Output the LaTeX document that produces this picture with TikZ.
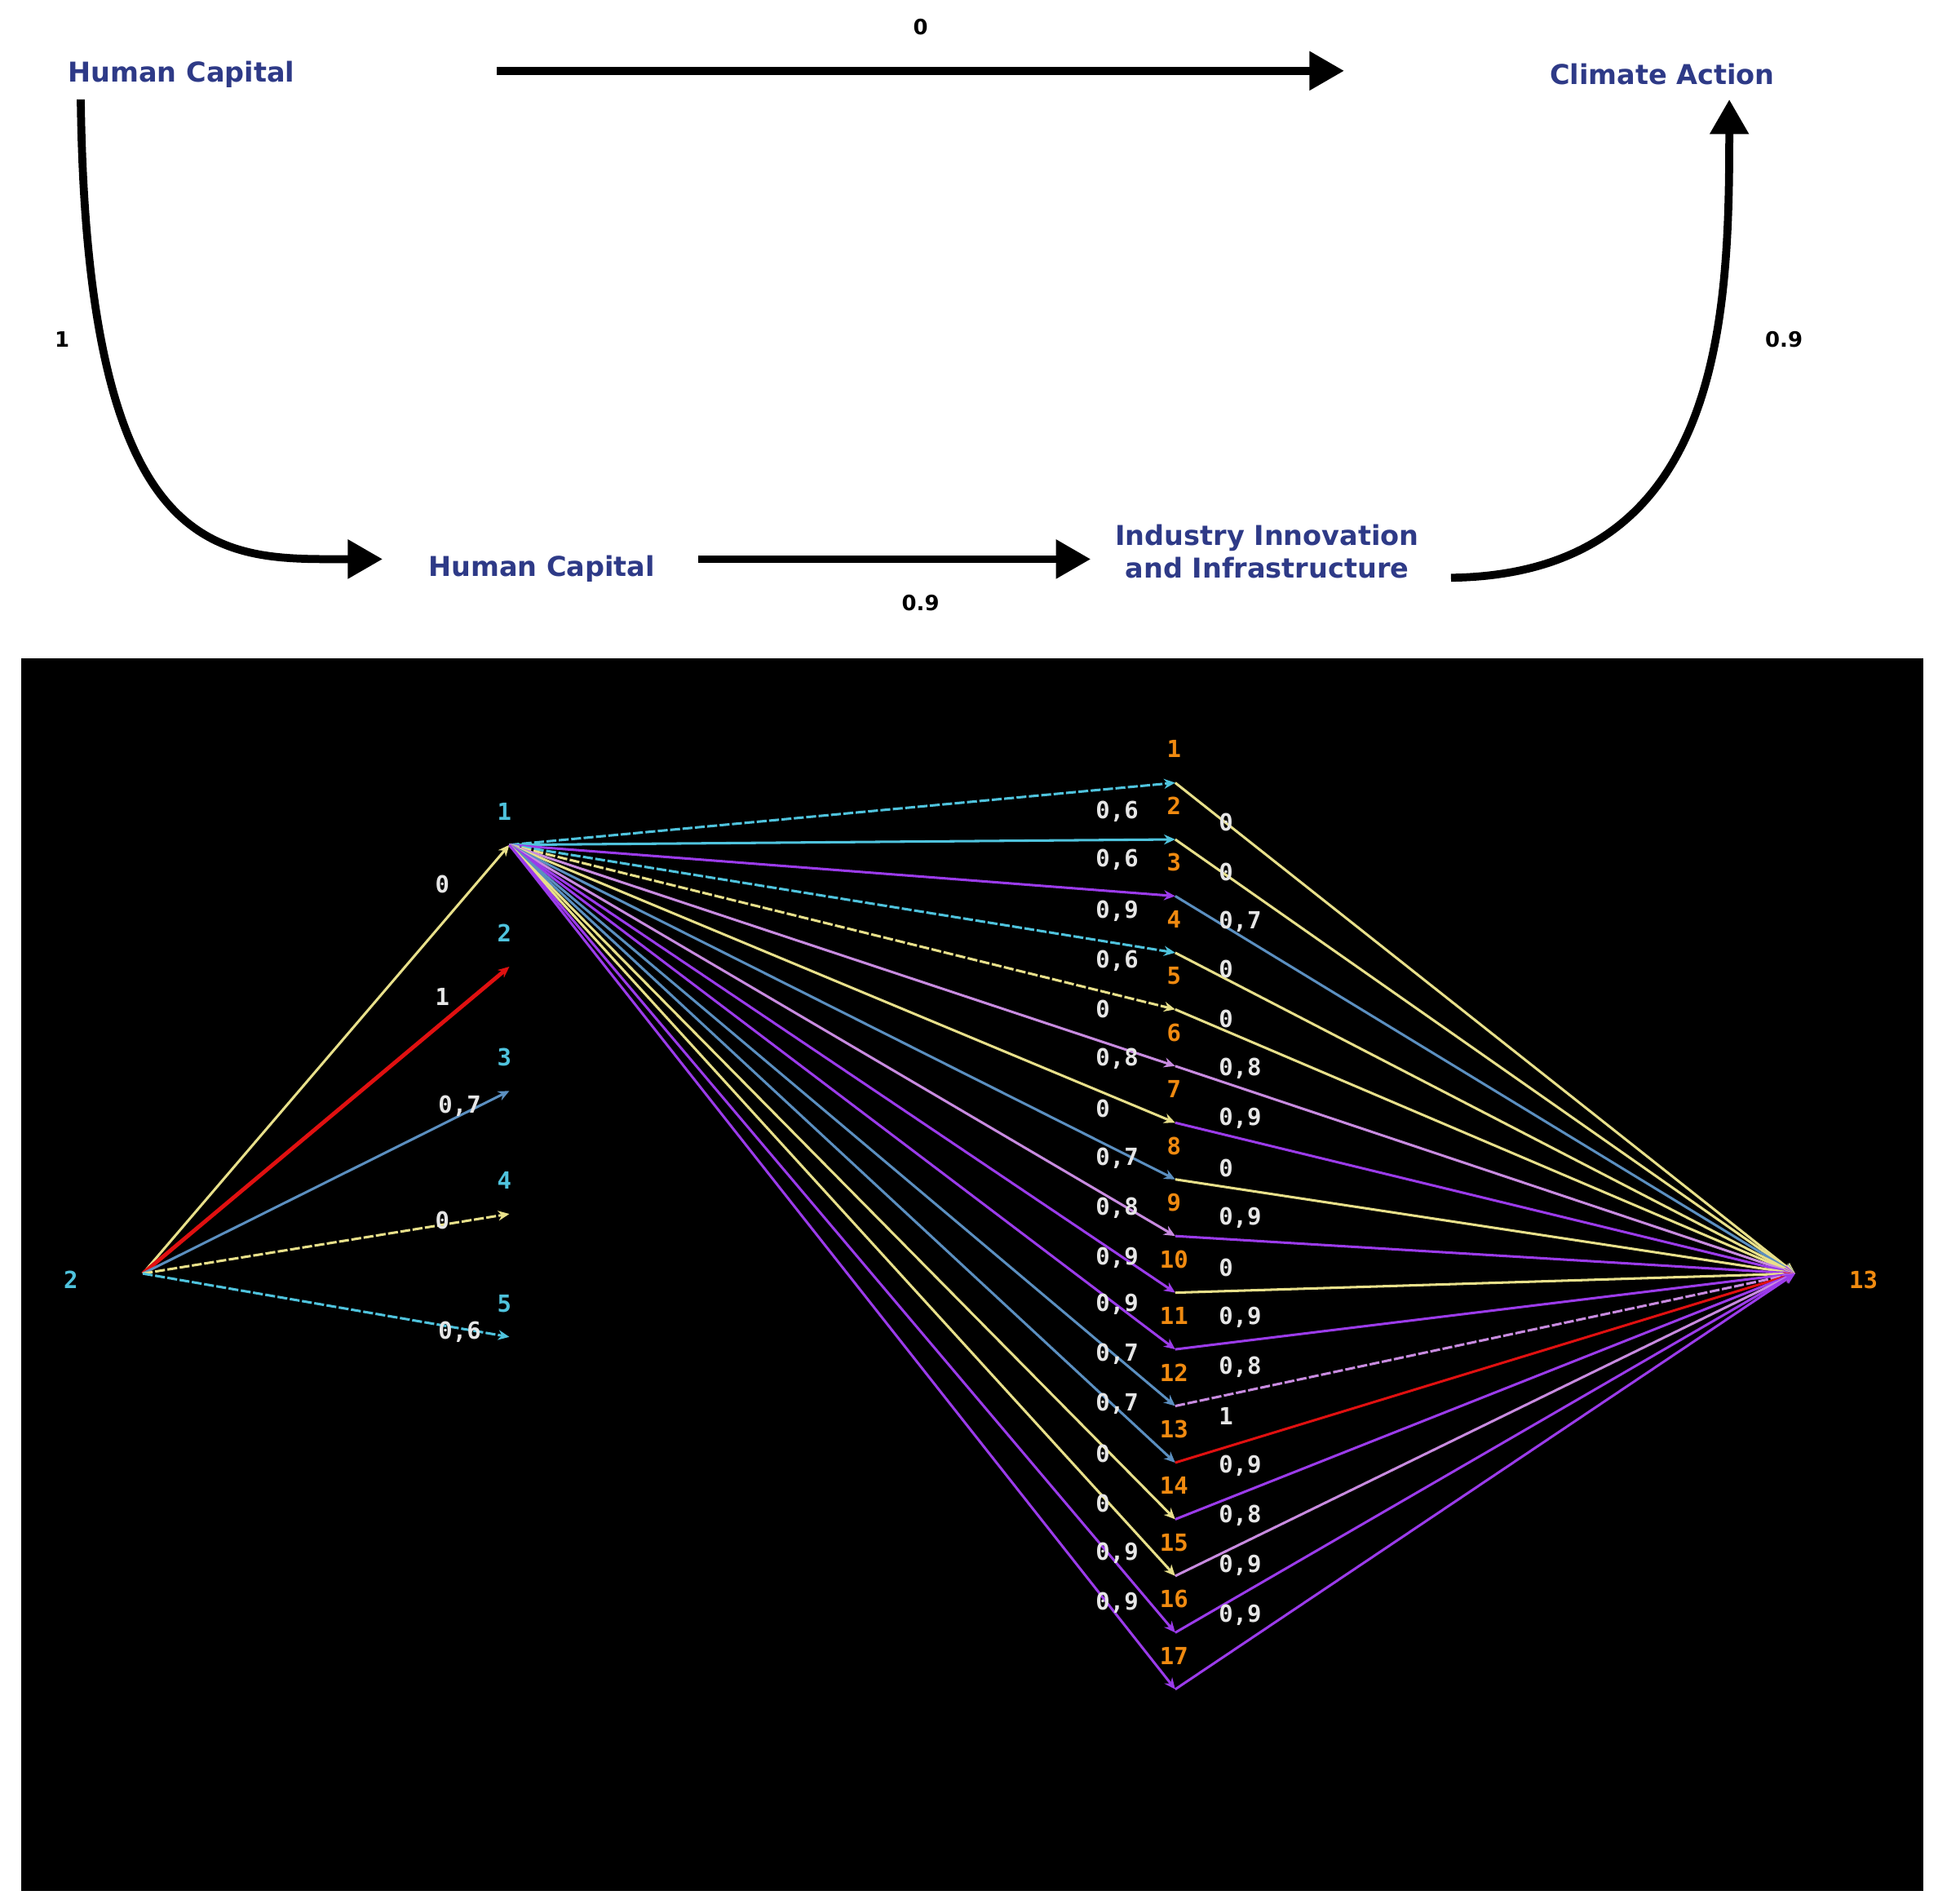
\documentclass[tikz,border=0pt]{standalone}
\usepackage{fontspec}
\setmainfont{DejaVu Sans}
\newfontfamily\gmono{DejaVu Sans Mono}
\usetikzlibrary{arrows.meta}
\definecolor{navy}{HTML}{2E3A87}
\definecolor{gcy}{HTML}{4FC3DD}
\definecolor{gye}{HTML}{E8E08A}
\definecolor{gpu}{HTML}{9B3BEA}
\definecolor{gpk}{HTML}{C88BE0}
\definecolor{gsb}{HTML}{5B8FC0}
\definecolor{grd}{HTML}{E01010}
\definecolor{gor}{HTML}{F08A10}
\definecolor{gwh}{HTML}{E6E6E6}
\begin{document}
\begin{tikzpicture}[x=0.5pt,y=-0.5pt,
  ttl/.style={font=\bfseries\fontsize{11}{13}\selectfont,text=navy,align=center},
  num/.style={font=\bfseries\fontsize{8.5}{10}\selectfont},
  big/.style={line width=3.2pt,-{Triangle[length=14pt,width=15pt]}},
  e/.style={line width=1pt,-{Stealth[length=4.5pt,width=4pt]}},
  ed/.style={e,dash pattern=on 4pt off 1pt},
  gl/.style={font=\gmono\bfseries\fontsize{9.5}{10}\selectfont,text=gwh},
  nl/.style={font=\gmono\bfseries\fontsize{9.5}{10}\selectfont}]
\useasboundingbox (0,0) rectangle (1560,1532);
% top part
\node[ttl] (hc1) at (146,60) {Human Capital};
\node[ttl] (ca) at (1338,60) {Climate Action};
\node[ttl] (hc2) at (436,458) {Human Capital};
\node[ttl] (iii) at (1020,444) {Industry Innovation\\and Infrastructure};
\coordinate (a1s) at (400,57); \coordinate (a1e) at (1082,57);
\draw[big] (a1s) -- (a1e);
\node[num] (l0) at (741,22) {0};
\coordinate (c1s) at (65,80); \coordinate (c1e) at (308,450);
\draw[big] (c1s) .. controls (70,460) and (180,450) .. (c1e);
\node[num] (l1) at (50,273) {1};
\coordinate (a2s) at (562,450); \coordinate (a2e) at (878,450);
\draw[big] (a2s) -- (a2e);
\node[num] (l2) at (741,485) {0.9};
\coordinate (c2s) at (1168,465); \coordinate (c2e) at (1392,80);
\draw[big] (c2s) .. controls (1385,462) and (1392,260) .. (c2e);
\node[num] (l3) at (1436,273) {0.9};
% graph
\fill[black] (17,530) rectangle (1548,1522);
\coordinate (L2) at (115,1025);
\node[nl,text=gcy] at (57,1030) {2};
\foreach \i/\y in {1/680,2/778,3/878,4/977,5/1076}{
  \coordinate (M\i) at (410,\y);
  \node[nl,text=gcy] at (406,\y-27) {\i};
}
\draw[e,gye] (L2) -- (M1);
\draw[e,grd,line width=1.6pt] (L2) -- (M2);
\draw[e,gsb] (L2) -- (M3);
\draw[ed,gye] (L2) -- (M4);
\draw[ed,gcy] (L2) -- (M5);
\node[gl] at (356,712) {0};
\node[gl] at (356,802) {1};
\node[gl] at (370,890) {0,7};
\node[gl] at (356,982) {0};
\node[gl] at (370,1072) {0,6};
\coordinate (R13) at (1445,1025);
\node[nl,text=gor] at (1500,1030) {13};
\foreach \k in {1,...,17}{
  \coordinate (T\k) at (946,{630+(\k-1)*45.6});
}
\foreach \k/\c/\s in {1/gcy/ed,2/gcy/e,3/gpu/e,4/gcy/ed,5/gye/ed,6/gpk/e,7/gye/e,8/gsb/e,9/gpk/e,10/gpu/e,11/gpu/e,12/gsb/e,13/gsb/e,14/gye/e,15/gye/e,16/gpu/e,17/gpu/e}{
  \draw[\s,\c] (M1) -- (T\k);
}
\foreach \k/\c/\s in {1/gye/e,2/gye/e,3/gsb/e,4/gye/e,5/gye/e,6/gpk/e,7/gpu/e,8/gye/e,9/gpu/e,10/gye/e,11/gpu/e,12/gpk/ed,13/grd/e,14/gpu/e,15/gpk/e,16/gpu/e,17/gpu/e}{
  \draw[\s,\c] (T\k) -- (R13);
}
\foreach \k in {1,...,17}{
  \node[nl,text=gor] at (945,{630+(\k-1)*45.6-27}) {\k};
}
\foreach \y/\t in {653/{0,6},692/{0,6},733/{0,9},773/{0,6},812/{0},852/{0,8},892/{0},932/{0,7},972/{0,8},1012/{0,9},1050/{0,9},1090/{0,7},1130/{0,7},1170/{0},1210/{0},1250/{0,9},1290/{0,9}}{
  \node[gl,anchor=west] at (875,\y) {\t};
}
\foreach \y/\t in {662/{0},702/{0},742/{0,7},780/{0},820/{0},860/{0,8},900/{0,9},940/{0},980/{0,9},1020/{0},1060/{0,9},1100/{0,8},1140/{1},1180/{0,9},1220/{0,8},1260/{0,9},1300/{0,9}}{
  \node[gl,anchor=west] at (974,\y) {\t};
}
\end{tikzpicture}
\end{document}
